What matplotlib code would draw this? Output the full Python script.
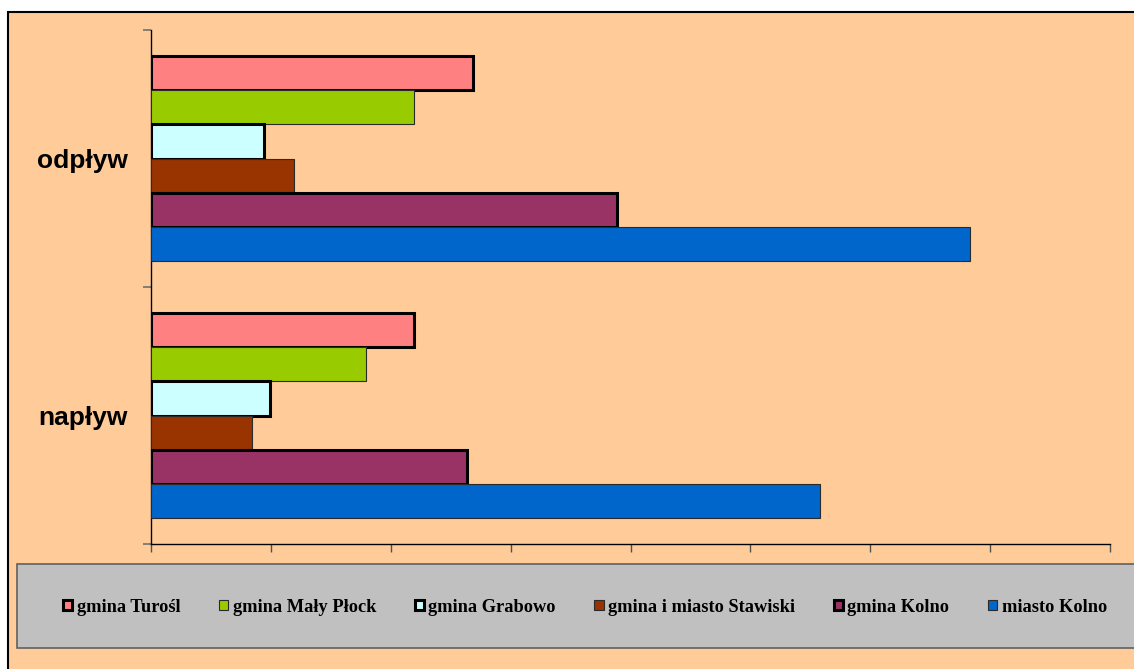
import matplotlib
matplotlib.use("Agg")
import matplotlib.pyplot as plt
from matplotlib.patches import Rectangle

# categories (bottom to top on the axis)
categories = ["napływ", "odpływ"]

# series, listed in the order they appear from top of each group
series_names = ["gmina Turośl", "gmina Mały Płock", "gmina Grabowo",
                "gmina i miasto Stawiski", "gmina Kolno", "miasto Kolno"]
series_colors = ["#FF8080", "#99CC00", "#CCFFFF", "#993300", "#993366", "#0066CC"]
thick_edge = [True, False, True, False, True, False]

# values (napływ, odpływ), unit = 1/10 of a tick step
turosl = [21.9, 26.9]
maly_plock = [17.9, 21.9]
grabowo = [9.9, 9.4]
stawiski = [8.4, 11.9]
gmina_kolno = [26.4, 38.9]
miasto_kolno = [55.8, 68.3]
series_values = [turosl, maly_plock, grabowo, stawiski, gmina_kolno, miasto_kolno]

x_ticks = [0, 10, 20, 30, 40, 50, 60, 70, 80]

peach = "#FFCC99"

fig = plt.figure(figsize=(11.34, 6.69), dpi=100)
fig.patch.set_facecolor("white")

W, H = 1134.0, 669.0
# outer chart area with black border (runs off the right/bottom edge)
fig.patches.append(Rectangle((8 / W, -0.01), 1.02, (H - 12) / H + 0.01,
                             transform=fig.transFigure, facecolor=peach,
                             edgecolor="black", linewidth=1.5, zorder=-2))
# grey legend box
fig.patches.append(Rectangle((17 / W, (H - 648) / H), 1.02, 84 / H,
                             transform=fig.transFigure, facecolor="#C0C0C0",
                             edgecolor="#606060", linewidth=1.2, zorder=-1))

ax = fig.add_axes([151 / W, (H - 544) / H, 959 / W, 514 / H])
ax.set_facecolor("none")

n = len(series_names)
h = 0.8 / n
for i, (name, vals, col, thick) in enumerate(zip(series_names, series_values,
                                                 series_colors, thick_edge)):
    ypos = [k + (n / 2 - 0.5 - i) * h for k in range(len(categories))]
    ax.barh(ypos, vals, height=h, color=col, label=name,
            edgecolor="black" if thick else "#2a2a2a",
            linewidth=2.2 if thick else 0.8, zorder=3)

ax.set_xlim(x_ticks[0], x_ticks[-1])
ax.set_ylim(-0.5, len(categories) - 0.5)

ax.set_xticks(x_ticks)
ax.set_xticklabels([])
ax.set_yticks([-0.5, 0.5, 1.5])
ax.set_yticklabels([])
ax.set_yticks(range(len(categories)), minor=True)
ax.set_yticklabels(categories, minor=True, fontsize=19, fontweight="bold",
                   family="Liberation Sans")
ax.tick_params(axis="y", which="minor", length=0, pad=17)
ax.tick_params(axis="y", which="major", length=6, color="#707070", width=1.2)
ax.tick_params(axis="x", which="major", length=6, color="#505050", width=1)

for s in ["top", "right"]:
    ax.spines[s].set_visible(False)
for s in ["left", "bottom"]:
    ax.spines[s].set_color("black")
    ax.spines[s].set_linewidth(1)

leg = fig.legend(loc="center", bbox_to_anchor=(585 / W, (H - 607) / H), ncol=6,
                 frameon=False, handlelength=0.5, handleheight=0.5,
                 handletextpad=0.25, columnspacing=2.1,
                 prop={"family": "Liberation Serif", "weight": "bold", "size": 13.2})

fig.savefig("out.png", dpi=100, facecolor="white")
